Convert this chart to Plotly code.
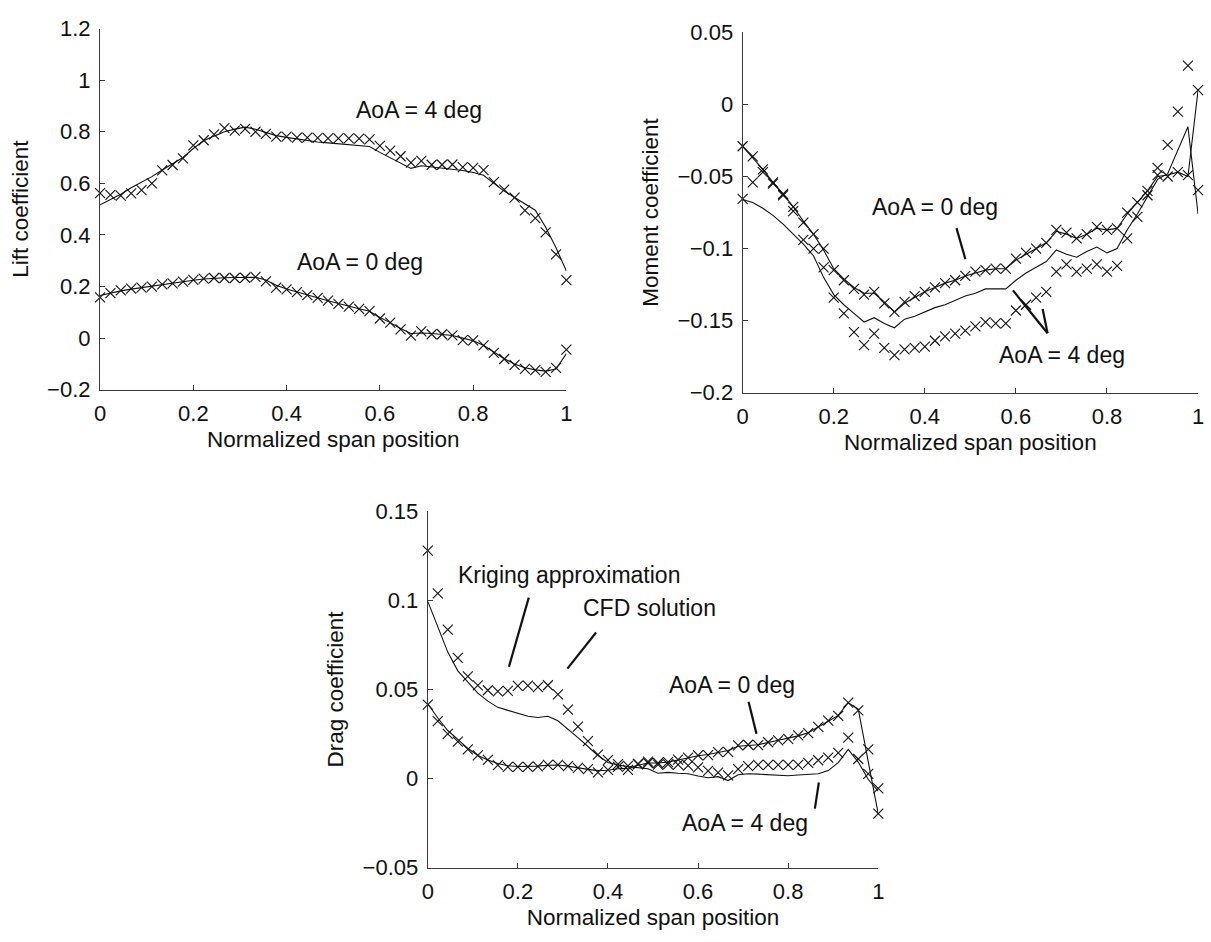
import plotly.graph_objects as go

# ---------------- data ----------------
N = 46
span = [i / (N - 1) for i in range(N)]

lift_aoa4_cfd = [0.562, 0.555, 0.552, 0.561, 0.574, 0.600, 0.650, 0.671, 0.697, 0.747,
                 0.767, 0.790, 0.814, 0.804, 0.811, 0.800, 0.792, 0.781, 0.781, 0.777,
                 0.777, 0.776, 0.774, 0.774, 0.774, 0.773, 0.770, 0.745, 0.727, 0.705,
                 0.680, 0.687, 0.672, 0.672, 0.673, 0.663, 0.660, 0.651, 0.605, 0.576,
                 0.545, 0.495, 0.465, 0.410, 0.325, 0.225]
lift_aoa4_krig = [0.517, 0.537, 0.558, 0.583, 0.604, 0.626, 0.652, 0.676, 0.700, 0.735,
                  0.765, 0.783, 0.800, 0.810, 0.818, 0.810, 0.797, 0.785, 0.778, 0.772,
                  0.765, 0.760, 0.757, 0.753, 0.749, 0.746, 0.743, 0.720, 0.700, 0.680,
                  0.658, 0.668, 0.664, 0.660, 0.656, 0.650, 0.642, 0.631, 0.600, 0.570,
                  0.545, 0.520, 0.496, 0.430, 0.350, 0.260]
lift_aoa0_cfd = [0.158, 0.174, 0.185, 0.192, 0.196, 0.200, 0.208, 0.212, 0.219, 0.226,
                 0.231, 0.233, 0.233, 0.233, 0.234, 0.237, 0.220, 0.196, 0.189, 0.178,
                 0.167, 0.156, 0.145, 0.133, 0.122, 0.113, 0.105, 0.076, 0.060, 0.034,
                 0.010, 0.026, 0.015, 0.015, 0.011, -0.008, -0.009, -0.028, -0.057, -0.081,
                 -0.104, -0.119, -0.124, -0.131, -0.115, -0.045]
lift_aoa0_krig = [0.165, 0.175, 0.183, 0.190, 0.196, 0.201, 0.207, 0.212, 0.218, 0.224,
                  0.229, 0.232, 0.234, 0.235, 0.236, 0.236, 0.225, 0.205, 0.190, 0.178,
                  0.167, 0.156, 0.145, 0.134, 0.123, 0.114, 0.104, 0.080, 0.060, 0.037,
                  0.018, 0.020, 0.018, 0.015, 0.010, 0.000, -0.010, -0.028, -0.055, -0.080,
                  -0.100, -0.115, -0.123, -0.128, -0.120, -0.060]

moment_aoa0_cfd = [-0.029, -0.036, -0.045, -0.054, -0.062, -0.071, -0.082, -0.090, -0.100, -0.115,
                   -0.122, -0.128, -0.132, -0.130, -0.138, -0.144, -0.137, -0.133, -0.130, -0.127,
                   -0.124, -0.122, -0.119, -0.116, -0.115, -0.114, -0.114, -0.107, -0.103, -0.100,
                   -0.096, -0.087, -0.089, -0.093, -0.090, -0.085, -0.087, -0.086, -0.075, -0.068,
                   -0.060, -0.049, -0.050, -0.047, -0.049, 0.010]
moment_aoa0_krig = [-0.029, -0.037, -0.045, -0.054, -0.062, -0.071, -0.081, -0.090, -0.101, -0.114,
                    -0.121, -0.127, -0.131, -0.131, -0.137, -0.144, -0.138, -0.134, -0.130, -0.127,
                    -0.124, -0.122, -0.119, -0.117, -0.115, -0.114, -0.114, -0.108, -0.104, -0.100,
                    -0.096, -0.088, -0.090, -0.093, -0.090, -0.086, -0.087, -0.086, -0.076, -0.068,
                    -0.060, -0.050, -0.049, -0.047, -0.050, 0.010]
moment_aoa4_cfd = [-0.0655, -0.054, -0.047, -0.055, -0.063, -0.074, -0.094, -0.100, -0.113, -0.134,
                   -0.145, -0.158, -0.167, -0.159, -0.169, -0.174, -0.170, -0.169, -0.168, -0.164,
                   -0.161, -0.159, -0.157, -0.154, -0.151, -0.152, -0.152, -0.143, -0.139, -0.134,
                   -0.130, -0.116, -0.111, -0.116, -0.114, -0.111, -0.116, -0.112, -0.093, -0.078,
                   -0.063, -0.044, -0.028, -0.005, 0.027, -0.0595]
moment_aoa4_krig = [-0.066, -0.068, -0.072, -0.077, -0.083, -0.090, -0.097, -0.105, -0.120, -0.132,
                    -0.139, -0.145, -0.151, -0.148, -0.152, -0.155, -0.149, -0.147, -0.144, -0.141,
                    -0.139, -0.136, -0.133, -0.131, -0.128, -0.128, -0.128, -0.122, -0.117, -0.113,
                    -0.109, -0.101, -0.104, -0.106, -0.102, -0.099, -0.103, -0.100, -0.087, -0.076,
                    -0.064, -0.052, -0.048, -0.032, -0.0155, -0.076]

drag_aoa0_cfd = [0.0415, 0.0322, 0.0251, 0.0208, 0.0164, 0.0130, 0.0105, 0.0075, 0.0066, 0.0066,
                 0.0066, 0.0068, 0.0077, 0.0077, 0.0070, 0.0060, 0.0053, 0.0035, 0.0049, 0.0066,
                 0.0049, 0.0082, 0.0095, 0.0088, 0.0093, 0.0106, 0.0118, 0.0130, 0.0132, 0.0148,
                 0.0150, 0.0186, 0.0190, 0.0188, 0.0204, 0.0214, 0.0223, 0.0242, 0.0255, 0.0290,
                 0.0325, 0.0352, 0.0426, 0.0383, 0.0164, -0.0197]
drag_aoa0_krig = [0.0420, 0.0340, 0.0270, 0.0220, 0.0170, 0.0130, 0.0105, 0.0085, 0.0072, 0.0068,
                  0.0068, 0.0070, 0.0075, 0.0076, 0.0070, 0.0060, 0.0052, 0.0045, 0.0047, 0.0055,
                  0.0058, 0.0075, 0.0088, 0.0088, 0.0093, 0.0104, 0.0116, 0.0128, 0.0135, 0.0146,
                  0.0158, 0.0182, 0.0188, 0.0190, 0.0203, 0.0214, 0.0225, 0.0240, 0.0257, 0.0288,
                  0.0322, 0.0355, 0.0426, 0.0390, 0.0105, -0.0200]
drag_aoa4_cfd = [0.1280, 0.1040, 0.0836, 0.0678, 0.0574, 0.0523, 0.0496, 0.0490, 0.0492, 0.0521,
                 0.0522, 0.0514, 0.0524, 0.0473, 0.0387, 0.0292, 0.0211, 0.0135, 0.0104, 0.0081,
                 0.0072, 0.0082, 0.0087, 0.0079, 0.0080, 0.0078, 0.0073, 0.0063, 0.0043, 0.0033,
                 0.0018, 0.0053, 0.0070, 0.0077, 0.0077, 0.0077, 0.0077, 0.0077, 0.0088, 0.0103,
                 0.0118, 0.0145, 0.0230, 0.0110, 0.0027, -0.0055]
drag_aoa4_krig = [0.0995, 0.0850, 0.0710, 0.0605, 0.0540, 0.0480, 0.0435, 0.0400, 0.0383, 0.0365,
                  0.0350, 0.0343, 0.0350, 0.0325, 0.0280, 0.0230, 0.0180, 0.0130, 0.0090, 0.0076,
                  0.0067, 0.0060, 0.0055, 0.0030, 0.0035, 0.0030, 0.0027, 0.0015, 0.0005, 0.0011,
                  -0.0011, 0.0022, 0.0027, 0.0025, 0.0022, 0.0018, 0.0016, 0.0020, 0.0024, 0.0027,
                  0.0045, 0.0090, 0.0164, 0.0093, -0.0005, -0.0070]

x_ticks = [0, 0.2, 0.4, 0.6, 0.8, 1]
x_ticktext = ["0", "0.2", "0.4", "0.6", "0.8", "1"]
lift_ticks = [-0.2, 0, 0.2, 0.4, 0.6, 0.8, 1.0, 1.2]
lift_ticktext = ["\u22120.2", "0", "0.2", "0.4", "0.6", "0.8", "1", "1.2"]
moment_ticks = [-0.2, -0.15, -0.1, -0.05, 0, 0.05]
moment_ticktext = ["\u22120.2", "\u22120.15", "\u22120.1", "\u22120.05", "0", "0.05"]
drag_ticks = [-0.05, 0, 0.05, 0.1, 0.15]
drag_ticktext = ["\u22120.05", "0", "0.05", "0.1", "0.15"]

# ---------------- figure ----------------
FONT = "Liberation Sans, Arial, Helvetica, sans-serif"
INK = "#111111"
AX = "#3a3a3a"

fig = go.Figure()

def add_panel(xa, ya, series_pairs):
    for cfd, krig in series_pairs:
        fig.add_trace(go.Scatter(x=span, y=krig, mode="lines", xaxis=xa, yaxis=ya,
                                 line=dict(color=INK, width=1.1), showlegend=False,
                                 cliponaxis=False, hoverinfo="skip"))
        fig.add_trace(go.Scatter(x=span, y=cfd, mode="markers", xaxis=xa, yaxis=ya,
                                 marker=dict(symbol="x-thin-open", size=10, color=INK,
                                             line=dict(width=1.1, color=INK)),
                                 showlegend=False, cliponaxis=False))

add_panel("x", "y", [(lift_aoa4_cfd, lift_aoa4_krig), (lift_aoa0_cfd, lift_aoa0_krig)])
add_panel("x2", "y2", [(moment_aoa0_cfd, moment_aoa0_krig), (moment_aoa4_cfd, moment_aoa4_krig)])
add_panel("x3", "y3", [(drag_aoa0_cfd, drag_aoa0_krig), (drag_aoa4_cfd, drag_aoa4_krig)])

W, H = 1211, 942

def xdom(l, r):
    return [l / W, r / W]

def ydom(bottom_px, top_px):
    return [1 - bottom_px / H, 1 - top_px / H]

def xax(dom, anchor):
    return dict(domain=dom, anchor=anchor, range=[0, 1], tickmode="array",
                tickvals=x_ticks, ticktext=x_ticktext, ticks="inside", ticklen=5,
                tickwidth=1, tickcolor=AX, showline=True, linecolor=AX, linewidth=1.2,
                showgrid=False, zeroline=False, ticklabelstandoff=4,
                tickfont=dict(family=FONT, size=22, color=INK),
                title=dict(text="Normalized span position",
                           font=dict(family=FONT, size=22.5, color=INK), standoff=6))

def yax(dom, anchor, rng, tv, tt, title):
    return dict(domain=dom, anchor=anchor, range=rng, tickmode="array",
                tickvals=tv, ticktext=tt, ticks="inside", ticklen=5,
                tickwidth=1, tickcolor=AX, showline=True, linecolor=AX, linewidth=1.2,
                showgrid=False, zeroline=False, ticklabelstandoff=4,
                tickfont=dict(family=FONT, size=22, color=INK),
                title=dict(text=title, font=dict(family=FONT, size=22.5, color=INK), standoff=12))

fig.update_layout(
    width=W, height=H,
    margin=dict(l=0, r=0, t=0, b=0),
    paper_bgcolor="white", plot_bgcolor="white",
    font=dict(family=FONT, color=INK),
    xaxis=xax(xdom(95, 566), "y"),
    yaxis=yax(ydom(388, 17), "x", [-0.2, 1.2], lift_ticks, lift_ticktext, "Lift coefficient"),
    xaxis2=xax(xdom(744, 1204), "y2"),
    yaxis2=yax(ydom(391, 21), "x2", [-0.2, 0.05], moment_ticks, moment_ticktext, "Moment coefficient"),
    xaxis3=xax(xdom(426, 881), "y3"),
    yaxis3=yax(ydom(879, 513), "x3", [-0.05, 0.15], drag_ticks, drag_ticktext, "Drag coefficient"),
)

def label(text, x, y, xr, yr):
    fig.add_annotation(text=text, x=x, y=y, xref=xr, yref=yr, showarrow=False,
                       xanchor="center", yanchor="middle",
                       font=dict(family=FONT, size=23, color=INK))

def callout(x0, y0, x1, y1, xr, yr):
    fig.add_shape(type="line", x0=x0, y0=y0, x1=x1, y1=y1, xref=xr, yref=yr,
                  line=dict(color=INK, width=2.2))

# lift panel
label("AoA = 4 deg", 0.684, 0.883, "x", "y")
label("AoA = 0 deg", 0.558, 0.294, "x", "y")
# moment panel
label("AoA = 0 deg", 0.4217, -0.0715, "x2", "y2")
callout(0.4696, -0.0858, 0.4891, -0.1074, "x2", "y2")
label("AoA = 4 deg", 0.702, -0.1742, "x2", "y2")
callout(0.5935, -0.129, 0.6696, -0.1588, "x2", "y2")
callout(0.6587, -0.1419, 0.6696, -0.1588, "x2", "y2")
# drag panel
label("Kriging approximation", 0.3143, 0.1142, "x3", "y3")
callout(0.2242, 0.1016, 0.1802, 0.0628, "x3", "y3")
label("CFD solution", 0.4912, 0.0957, "x3", "y3")
callout(0.3736, 0.0820, 0.3099, 0.0617, "x3", "y3")
label("AoA = 0 deg", 0.6758, 0.0525, "x3", "y3")
callout(0.7121, 0.0432, 0.7297, 0.0251, "x3", "y3")
label("AoA = 4 deg", 0.7033, -0.0251, "x3", "y3")
callout(0.8681, -0.0022, 0.8593, -0.0169, "x3", "y3")

fig.write_html("out.html")
